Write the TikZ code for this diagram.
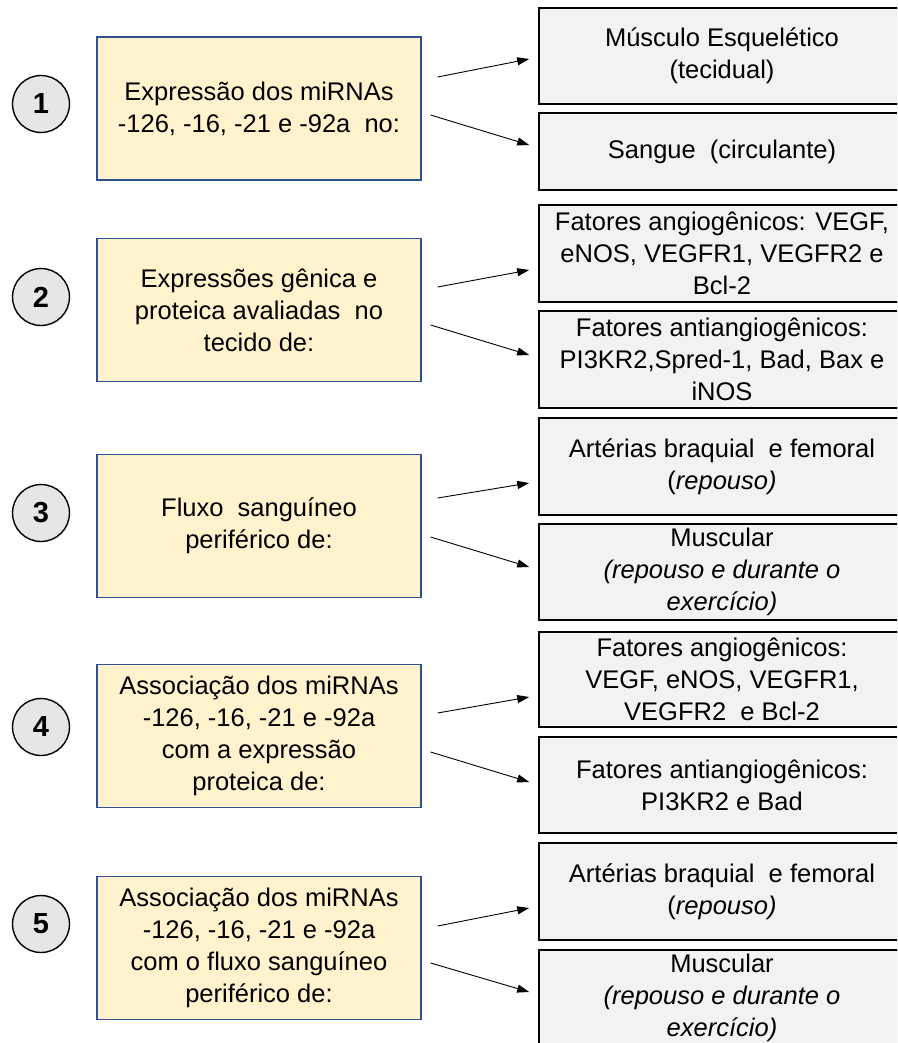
\documentclass[tikz,border=0pt]{standalone}
\usepackage{fontspec}
\setmainfont{Liberation Sans}
\usetikzlibrary{arrows.meta}

\definecolor{boxyellow}{HTML}{FFF2CC}
\definecolor{boxedge}{HTML}{2F528F}
\definecolor{boxgray}{HTML}{F2F2F2}
\definecolor{numgray}{HTML}{E7E6E6}

\begin{document}
\begin{tikzpicture}[x=1pt,y=-1pt,
    leftbox/.style={draw=boxedge,line width=1.2pt,fill=boxyellow,minimum width=324pt,
        minimum height=143pt,align=center,inner sep=0pt,font=\fontsize{25.5}{32}\selectfont},
    rightbox/.style={draw=black,line width=1.6pt,fill=boxgray,minimum width=366pt,
        align=center,inner sep=0pt,font=\fontsize{25.5}{32}\selectfont},
    num/.style={circle,draw=black,line width=1.4pt,fill=numgray,minimum size=57pt,
        inner sep=0pt,font=\fontsize{29}{32}\selectfont\bfseries},
    arr/.style={-{Triangle[length=12pt,width=8pt]},line width=0.9pt}]
    \clip (0,0) rectangle (897,1043);
    \fill[white] (0,0) rectangle (897,1043);

    % 1
    \node[num] (n1) at (41,104) {1};
    \node[leftbox] (l1) at (259,108.5) {Expressão dos miRNAs\\-126, -16, -21 e -92a\ \ no:};
    \node[rightbox,minimum height=96pt] (ra1) at (722,56) {Músculo Esquelético\\(tecidual)};
    \node[rightbox,minimum height=77pt] (rb1) at (722,151.5) {Sangue\ \ (circulante)};

    % 2
    \node[num] (n2) at (41,297) {2};
    \node[leftbox] (l2) at (259,310) {Expressões gênica e\\proteica avaliadas\ \ no\\tecido de:};
    \node[rightbox,minimum height=97pt] (ra2) at (722,253.5) {Fatores angiogênicos: VEGF,\\eNOS, VEGFR1, VEGFR2 e\\Bcl-2};
    \node[rightbox,minimum height=97pt] (rb2) at (722,359.5) {Fatores antiangiogênicos:\\PI3KR2,Spred-1, Bad, Bax e\\iNOS};

    % 3
    \node[num] (n3) at (41,513) {3};
    \node[leftbox] (l3) at (259,526) {Fluxo\ \ sanguíneo\\periférico de:};
    \node[rightbox,minimum height=97pt] (ra3) at (722,466.5) {Artérias braquial\ \ e femoral\\(\textit{repouso)}};
    \node[rightbox,minimum height=96pt] (rb3) at (722,572) {Muscular\\\textit{(repouso e durante o}\\\textit{exercício)}};

    % 4
    \node[num] (n4) at (41,727) {4};
    \node[leftbox] (l4) at (259,736) {Associação dos miRNAs\\-126, -16, -21 e -92a\\com a expressão\\proteica de:};
    \node[rightbox,minimum height=95pt] (ra4) at (722,679.5) {Fatores angiogênicos:\\VEGF, eNOS, VEGFR1,\\VEGFR2\ \ e Bcl-2};
    \node[rightbox,minimum height=96pt] (rb4) at (722,785) {Fatores antiangiogênicos:\\PI3KR2 e Bad};

    % 5
    \node[num] (n5) at (41,924) {5};
    \node[leftbox] (l5) at (259,948) {Associação dos miRNAs\\-126, -16, -21 e -92a\\com o fluxo sanguíneo\\periférico de:};
    \node[rightbox,minimum height=97pt] (ra5) at (722,891.5) {Artérias braquial\ \ e femoral\\(\textit{repouso)}};
    \node[rightbox,minimum height=96pt] (rb5) at (722,998) {Muscular\\\textit{(repouso e durante o}\\\textit{exercício)}};

    % arrows
    \foreach \k/\sa/\sb/\ea/\eb in {1/31.5/-6.5/-3/6.5, 2/23/-15/-16.5/4.5,
        3/28/-11/-16.5/5, 4/23/-16/-17.5/3, 5/22/-15/-16.5/6} {
        \draw[arr] ([xshift=16,yshift=\sa]l\k.east) -- ([xshift=-9,yshift=\ea]ra\k.west);
        \draw[arr] ([xshift=9,yshift=\sb]l\k.east) -- ([xshift=-9,yshift=\eb]rb\k.west);
    }
\end{tikzpicture}
\end{document}
